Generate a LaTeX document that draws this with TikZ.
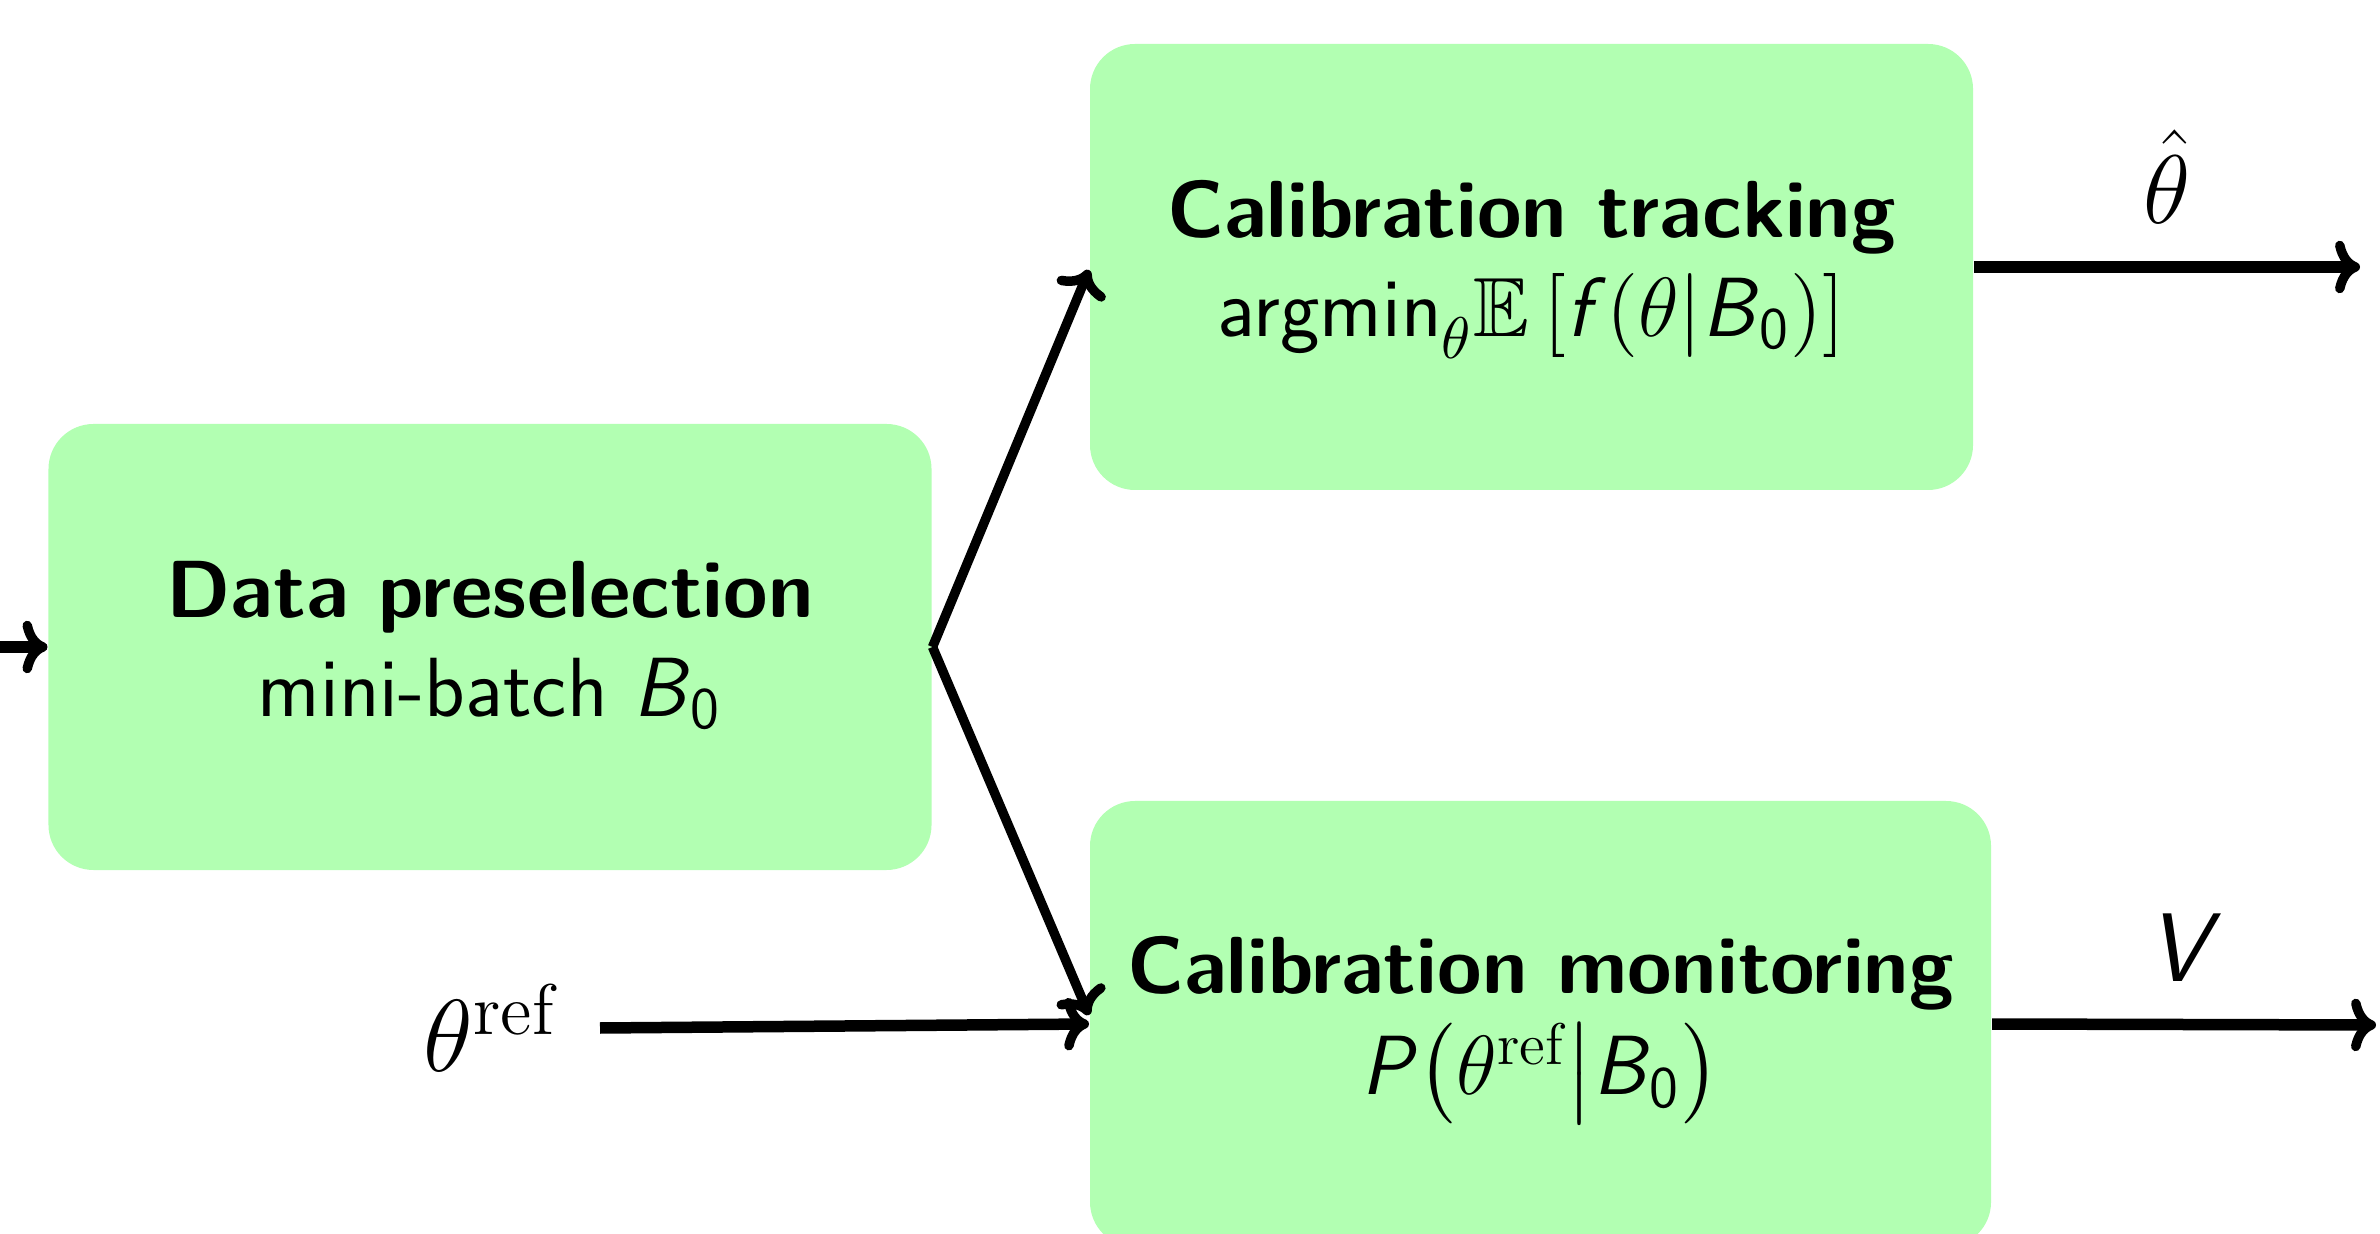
\RequirePackage{fix-cm}
\documentclass[tikz,border=0pt]{standalone}
\usepackage{amsmath,amssymb}
\usepackage{fontspec}
\usetikzlibrary{arrows.meta}
\newcommand{\sv}[1]{\textsf{\textit{#1}}}
\newcommand{\lineA}[1]{{\fontsize{16.2}{19.8}\selectfont\bfseries #1}}
\newcommand{\lineB}[1]{{\fontsize{16.8}{19.8}\selectfont #1}}
\tikzset{
  blockbox/.style={draw=none, fill=green!30, rounded corners=9pt,
    minimum width=176.6pt, minimum height=89.2pt, inner sep=0pt,
    font=\sffamily\fontsize{16.5}{19.8}\selectfont},
  flow/.style={line width=1.9pt,
    -{Computer Modern Rightarrow[length=5pt,width=10.5pt,line width=1.9pt]}},
  flowh/.style={flow, line width=2.3pt},
  lbl/.style={inner sep=0pt, font=\fontsize{19.5}{23}\selectfont}
}
\begin{document}
\begin{tikzpicture}[x=0.2pt,y=-0.2pt]
\useasboundingbox (0,0) rectangle (2380,1234);
\clip (0,0) rectangle (2380,1234);

\node[blockbox] (pre) at (490,647) {\begin{tabular}{@{}c@{}}\lineA{Data preselection}\\ \lineB{mini-batch \sv{B}$_{\textsf{0}}$}\end{tabular}};
\node[blockbox] (trk) at (1531.5,267) {\begin{tabular}{@{}c@{}}\lineA{Calibration tracking}\\ \lineB{argmin$\sb{\lower2pt\hbox{$\scriptstyle\theta$}}\mathbb{E}\left[\sv{f}{\left(\theta\middle|\sv{B}_{\textsf{0}}\right)}\right]$}\end{tabular}};
\node[blockbox, minimum width=180.2pt] (mon) at (1540.5,1024) {\begin{tabular}{@{}c@{}}\lineA{Calibration monitoring}\\ \lineB{$\sv{P}{\left(\theta^{\mathrm{ref}}\middle|\sv{B}_{\textsf{0}}\right)}$}\end{tabular}};

\node[lbl, anchor=east, inner xsep=8.6pt, font=\fontsize{20.5}{24}\selectfont] (thref) at (600,1028) {$\theta^{\mathrm{ref}}$};

\coordinate (in) at (-40,647);
\coordinate (outT) at (2360,267);
\coordinate (outM) at (2376,1025);

\draw[flowh] (in) -- (pre.west);
\draw[flow] (pre.east) -- ([yshift=-0.6pt]trk.west);
\draw[flow] (pre.east) -- ([yshift=1.8pt]mon.west);
\draw[flowh] (thref.east) -- (mon.west);
\draw[flowh] (trk.east) -- node[lbl, above=7.5pt] (thhat) {$\hat{\theta}$} (outT);
\draw[flowh] (mon.east) -- node[lbl, above=7.5pt] (vout) {\sv{V}} (outM);
\end{tikzpicture}
\end{document}
